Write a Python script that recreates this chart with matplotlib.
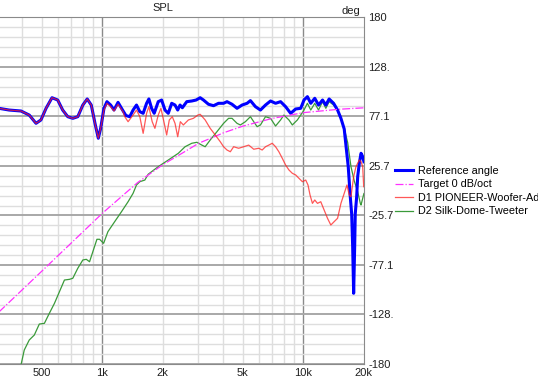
import matplotlib
matplotlib.use("Agg")
import matplotlib.pyplot as plt

plt.rcParams['font.family'] = ['Liberation Sans', 'DejaVu Sans']

# Reference angle (Hz, deg)
ref_freq = [306, 344, 394, 433, 468, 495, 525, 562, 600, 635, 673, 713, 755, 800,
            841, 881, 923, 955, 981, 1019, 1054, 1100, 1143, 1197, 1250, 1310, 1369,
            1422, 1479, 1536, 1596, 1660, 1704, 1758, 1811, 1897, 1972, 2049, 2128,
            2213, 2299, 2371, 2435, 2500, 2630, 2786, 2927, 3066, 3184, 3373, 3573,
            3784, 4009, 4169, 4416, 4677, 4955, 5248, 5451, 5774, 6116, 6479, 6863,
            7270, 7701, 8158, 8641, 9154, 9694, 10070, 10470, 10880, 11390, 11890,
            12450, 12930, 13430, 14130, 14790, 15370, 15960, 16280, 16710, 17100,
            17380, 17580, 17780, 17990, 18110, 18410, 18620, 18970, 19350, 19720, 20000]
ref_deg = [85.5, 83.7, 82.7, 78.5, 69.9, 73.4, 85.5, 96.5, 94.1, 83.7, 76.8, 75.1, 76.8, 88.9,
           95.2, 88.9, 68.2, 54.4, 64.7, 85.5, 92.4, 88.9, 83.7, 91.7, 85.0, 78.0, 76.8,
           83.7, 88.9, 82.0, 80.3, 90.7, 95.2, 85.5, 80.3, 92.4, 94.1, 83.7, 80.3,
           90.7, 88.9, 83.7, 88.9, 86.1, 92.4, 93.1, 94.1, 96.5, 94.1, 89.7, 88.2,
           90.7, 90.7, 92.4, 89.7, 85.5, 88.9, 90.7, 93.5, 87.2, 83.7, 88.9, 93.1,
           90.7, 92.4, 87.2, 80.3, 84.8, 85.5, 94.1, 97.6, 90.7, 95.9, 88.9,
           94.1, 88.9, 95.2, 90.7, 83.7, 75.1, 64.0, 47.0, 25.0, -6.0,
           -24.0, -58.0, -106.6, -58.0, -24.0, -6.0, 14.5, 28.4, 38.8, 35.3, 30.0]

# Target 0 dB/oct
target_freq = [306, 500, 1000, 1500, 2000, 2500, 3000, 4000, 5000, 7000, 10000, 15000, 20000]
target_deg = [-126, -83.6, -23.5, 8.5, 27, 39, 49, 60, 67, 75, 81, 84.5, 86]

# D1 woofer (follows reference below 1 kHz)
woofer_freq = ref_freq[:19] + [
    1019, 1054, 1100, 1143, 1197, 1268, 1293, 1343, 1422, 1479, 1536, 1596, 1660, 1704,
    1770, 1826, 1897, 1956, 2032, 2089, 2153, 2228, 2299, 2371, 2443, 2529, 2679, 2838,
    2985, 3066, 3247, 3440, 3644, 3860, 4009, 4169, 4331, 4498, 4764, 5047, 5346, 5662,
    5998, 6237, 6479, 6730, 6998, 7270, 7551, 7852, 8158, 8472, 8810, 9154, 9506, 9886,
    10270, 10540, 10790, 11090, 11390, 11750, 12200, 12680, 13180, 13690, 14220, 14790,
    15370, 15960, 16470, 16900, 17240, 17780, 18260, 18970, 19350, 19720, 19950]
woofer_deg = ref_deg[:19] + [
    83.7, 90.7, 87.2, 82.7, 89.7, 82.0, 76.8, 71.6, 78.5, 83.7, 76.8, 59.5, 80.3, 87.2,
    71.6, 64.7, 78.5, 85.5, 69.9, 57.8, 73.4, 76.8, 69.9, 56.0, 71.6, 68.2, 73.4, 75.1,
    78.5, 79.3, 73.4, 64.7, 57.8, 50.8, 45.6, 42.2, 40.4, 45.6, 44.0, 45.6, 47.3, 43.0,
    44.0, 42.2, 45.6, 47.3, 49.2, 45.6, 40.4, 33.6, 26.6, 21.5, 18.0, 16.3, 12.8, 9.3,
    11.0, 5.9, -4.5, -13.2, -9.7, -13.2, -11.5, -20.1, -28.7, -35.7, -32.2, -28.7,
    -13.2, -2.8, 5.9, -4.5, -6.3, 14.5, 24.9, 31.8, 30.0, 24.9, 4.1]

# D2 tweeter
tweeter_freq = [394, 409, 433, 459, 486, 515, 545, 578, 612, 648, 686, 713, 755, 800,
                832, 864, 897, 940, 969, 1015, 1066, 1152, 1245, 1343, 1422, 1479, 1536,
                1627, 1690, 1897, 2128, 2388, 2579, 2786, 2951, 3126, 3247, 3440, 3715,
                4009, 4246, 4416, 4677, 4859, 5146, 5451, 5662, 5888, 6116, 6479, 6863,
                7270, 7701, 7998, 8472, 8810, 9333, 9694, 10070, 10470, 10880, 11390,
                11890, 12450, 12930, 13430, 14130, 14790, 15370, 15960, 16600, 17240,
                17910, 18620, 19190, 19350, 19720, 20000]
tweeter_deg = [-181, -165.5, -155.1, -149.9, -138.5, -137.8, -127.4, -117.0, -104.9, -92.8,
               -92.1, -91.0, -80.6, -72.0, -71.3, -73.8, -63.4, -50.5, -50.5, -54.7, -42.6,
               -32.2, -21.9, -11.5, -2.8, 5.9, 9.3, 11.0, 17.0, 24.9, 31.8, 38.8, 45.6,
               49.2, 50.2, 47.3, 45.6, 52.6, 61.2, 69.9, 75.1, 75.1, 69.9, 68.2, 71.6,
               76.8, 71.6, 66.4, 68.2, 76.8, 75.1, 67.1, 73.4, 78.5, 73.4, 68.2, 73.4,
               78.5, 83.7, 90.7, 83.7, 90.7, 83.7, 92.4, 85.5, 92.4, 88.9, 83.7, 75.1,
               64.7, 50.0, 25.0, 10.0, -1.0, -13.2, -14.9, -8.0, -3.0]

x_ticks = [500, 1000, 2000, 5000, 10000, 20000]
x_labels = ['500', '1k', '2k', '5k', '10k', '20k']
y_ticks = [-180 + i * 360 / 7 for i in range(8)]
y_labels = ['-180', '-128.', '-77.1', '-25.7', '25.7', '77.1', '128.', '180']

fig = plt.figure(figsize=(5.38, 3.82), dpi=100)
ax = fig.add_axes([-0.002, 1 - 364 / 382, 365 / 538, (364 - 17.3) / 382])
ax.set_xscale('log')
ax.set_xlim(306, 20000)
ax.set_ylim(-180, 180)

# grid
for dec in [100, 1000, 10000]:
    for m in range(2, 10):
        f = dec * m
        if 306 < f < 20000:
            ax.axvline(f, color='#dedede', lw=1.0, zorder=0)
for f in [1000, 10000]:
    ax.axvline(f, color='#8a8a8a', lw=1.0, zorder=0)
for i in range(36):
    yv = -180 + i * 360 / 35
    if i % 5:
        ax.axhline(yv, color='#dedede', lw=1.0, zorder=0)
    else:
        ax.axhline(yv, color='#a8a8a8', lw=1.4, zorder=0)

ax.plot(ref_freq, ref_deg, color='#0000ff', lw=2.2, zorder=3, label='Reference angle')
ax.plot(target_freq, target_deg, color='#ff30ff', lw=0.9, ls='-.', zorder=4,
        label='Target 0 dB/oct')
ax.plot(woofer_freq, woofer_deg, color='#ff2020', lw=0.9, alpha=0.75, zorder=5,
        label='D1 PIONEER-Woofer-Ado')
ax.plot(tweeter_freq, tweeter_deg, color='#3a9a3a', lw=0.9, zorder=2,
        label='D2 Silk-Dome-Tweeter')

ax.set_xticks(x_ticks)
ax.set_xticklabels(x_labels)
ax.minorticks_off()
ax.yaxis.tick_right()
ax.set_yticks(y_ticks)
ax.set_yticklabels(y_labels)
ax.tick_params(length=0, labelsize=8, colors='#202020')
ax.tick_params(axis='x', pad=3)
ax.tick_params(axis='y', pad=3)

for s in ['top', 'right', 'bottom']:
    ax.spines[s].set_color('#8a8a8a')
ax.spines['left'].set_visible(False)

fig.text(163 / 538, 1 - 8 / 382, 'SPL', ha='center', va='center', fontsize=8, color='#202020')
fig.text(360 / 538, 1 - 11 / 382, 'deg', ha='right', va='center', fontsize=8, color='#202020')

fig.legend(loc='upper left', bbox_to_anchor=(394.5 / 538, 1 - 166 / 382), frameon=False,
           fontsize=7.8, handlelength=1.75, handletextpad=0.4, borderpad=0,
           borderaxespad=0, labelspacing=0.32)

fig.savefig('out.png', dpi=100)
